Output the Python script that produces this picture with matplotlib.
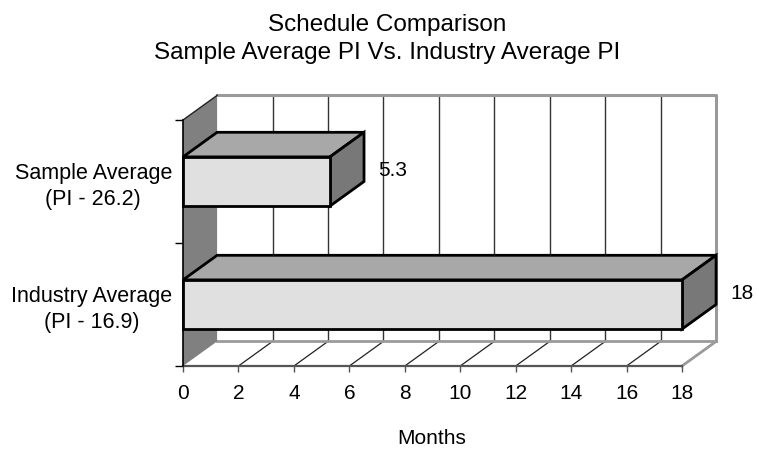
import matplotlib.pyplot as plt
from matplotlib.patches import Polygon

categories = ["Industry Average\n(PI - 16.9)", "Sample Average\n(PI - 26.2)"]
months = [18, 5.3]
value_labels = ["18", "5.3"]
x_ticks = list(range(0, 20, 2))

plt.rcParams["font.family"] = ["Liberation Sans", "DejaVu Sans"]

# depth of the fake 3-D box, in data units (months, category slots)
DX = 1.23
DY = 0.2
BAR_H = 0.4

FRONT = "#e0e0e0"
TOP = "#a8a8a8"
SIDE = "#787878"
WALL = "#808080"
EDGE = "#9a9a9a"

fig = plt.figure(figsize=(7.58, 4.51), dpi=100)
ax = fig.add_axes([183 / 758, 85 / 451, 499 / 758, 246 / 451])
ax.set_xlim(0, 18)
ax.set_ylim(0, len(categories))
ax.patch.set_visible(False)

ymax = len(categories)

# back wall gridlines
for k in x_ticks[1:-1]:
    ax.plot([k + DX, k + DX], [DY, ymax + DY], color="#333333", lw=1, clip_on=False, zorder=1)
# back wall frame
ax.plot([DX, 18 + DX, 18 + DX], [ymax + DY, ymax + DY, DY], color=EDGE, lw=2.2, clip_on=False, zorder=1)

# floor
for k in x_ticks[1:-1]:
    ax.plot([k, k + DX], [0, DY], color="#222222", lw=0.9, clip_on=False, zorder=1)
ax.plot([DX, 18 + DX], [DY, DY], color=EDGE, lw=2, clip_on=False, zorder=1)
ax.plot([18, 18 + DX], [0, DY], color=EDGE, lw=2, clip_on=False, zorder=1)

# left side wall
ax.add_patch(Polygon([(0, 0), (0, ymax), (DX, ymax + DY), (DX, DY)],
                     closed=True, fc=WALL, ec="none", clip_on=False, zorder=2))
ax.plot([0, DX], [ymax, ymax + DY], color="#222222", lw=1, clip_on=False, zorder=2)

# bars: front face from barh, top and side faces as polygons
centers = [i + 0.5 for i in range(len(categories))]
ax.barh(centers, months, height=BAR_H, color=FRONT, edgecolor="black", lw=2, zorder=4, clip_on=False)
for c, v, lab in zip(centers, months, value_labels):
    top = c + BAR_H / 2
    bot = c - BAR_H / 2
    ax.add_patch(Polygon([(0, top), (v, top), (v + DX, top + DY), (DX, top + DY)],
                         closed=True, fc=TOP, ec="black", lw=2, clip_on=False, zorder=3))
    ax.add_patch(Polygon([(v, bot), (v + DX, bot + DY), (v + DX, top + DY), (v, top)],
                         closed=True, fc=SIDE, ec="black", lw=2, clip_on=False, zorder=3))
    ax.annotate(lab, xy=(v + DX, c + DY / 2), xytext=(10, -1), textcoords="offset points",
                ha="left", va="center", fontsize=15, annotation_clip=False)

# axes
for s in ["top", "right"]:
    ax.spines[s].set_visible(False)
ax.spines["left"].set_color("black")
ax.spines["left"].set_linewidth(1.2)
ax.spines["left"].set_zorder(5)
ax.spines["bottom"].set_color("#555555")
ax.spines["bottom"].set_linewidth(1.6)

ax.set_xticks(x_ticks)
ax.tick_params(axis="x", direction="out", length=4, width=1, color="#555555", pad=9, labelsize=15)
ax.set_yticks(range(ymax + 1))
ax.set_yticklabels([])
ax.tick_params(axis="y", which="major", direction="out", length=6, width=1)
ax.set_yticks(centers, minor=True)
ax.set_yticklabels(categories, minor=True, fontsize=15.5, multialignment="center", linespacing=1.3)
ax.tick_params(axis="y", which="minor", length=0, pad=8)

fig.text(432 / 758, 1 - 439 / 451, "Months", ha="center", va="center", fontsize=15)
fig.text(387 / 758, 1 - 39 / 451, "Schedule Comparison\nSample Average PI Vs. Industry Average PI",
         ha="center", va="center", fontsize=17.5, linespacing=1.4)

fig.savefig("out.png", dpi=100)
